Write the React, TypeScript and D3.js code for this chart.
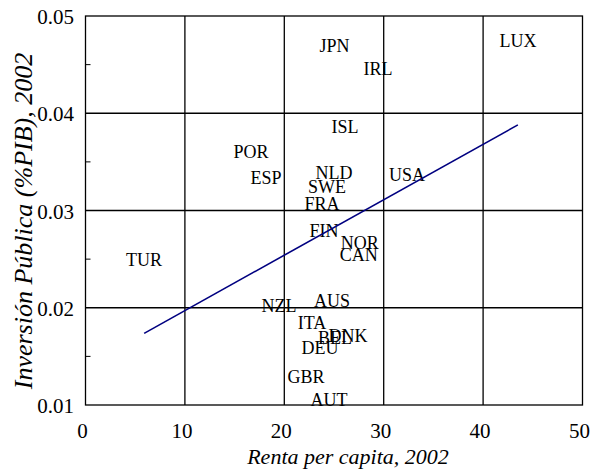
import React from "react";
import * as d3 from "d3";

// Country codes with GDP per capita (x) and public investment share (y), 2002
const countries = ["JPN", "IRL", "LUX", "ISL", "POR", "ESP", "NLD", "SWE", "FRA", "USA", "FIN", "NOR", "CAN", "TUR", "NZL", "AUS", "ITA", "BEL", "DNK", "DEU", "GBR", "AUT"];
const renta = [25.05, 29.43, 43.51, 26.11, 16.65, 18.16, 25.0, 24.3, 23.79, 32.34, 23.99, 27.6, 27.5, 5.89, 19.47, 24.8, 22.79, 25.1, 26.4, 23.59, 22.18, 24.5];
const inversion = [0.0469, 0.04453, 0.04741, 0.03857, 0.036, 0.03333, 0.03384, 0.0324, 0.03066, 0.03364, 0.02788, 0.02665, 0.02542, 0.0249, 0.02017, 0.02069, 0.01843, 0.01689, 0.0171, 0.01586, 0.01288, 0.01051];

// Trend line endpoints
const trendX = [5.9, 43.5];
const trendY = [0.01737, 0.0388];

const xTicks = [0, 10, 20, 30, 40, 50];
const yTicks = [0.01, 0.02, 0.03, 0.04, 0.05];
const yMinorTicks = [0.015, 0.025, 0.035, 0.045];

const W = 591;
const H = 473;
const left = 85.5;
const right = 582.5;
const top = 16;
const bottom = 405;
const FONT = "'Liberation Serif'";

export default function App() {
  const x = d3.scaleLinear().domain([0, 50]).range([left, right]);
  const y = d3.scaleLinear().domain([0.01, 0.05]).range([bottom, top]);
  const line = d3
    .line<number>()
    .x((d) => x(trendX[d]))
    .y((d) => y(trendY[d]));

  const txt = { fontFamily: FONT, fill: "#000" } as React.CSSProperties;

  return (
    <svg width={W} height={H} style={{ position: "absolute", left: 0, top: 0, background: "#fff" }}>
      <rect x={0} y={0} width={W} height={H} fill="#fff" />
      {/* grid */}
      {xTicks.slice(1, -1).map((t) => (
        <line key={"gx" + t} x1={x(t)} x2={x(t)} y1={top} y2={bottom} stroke="#000" strokeWidth={1.3} />
      ))}
      {yTicks.slice(1, -1).map((t) => (
        <line key={"gy" + t} x1={left} x2={right} y1={y(t)} y2={y(t)} stroke="#000" strokeWidth={1.3} />
      ))}
      {yMinorTicks.map((t) => (
        <line key={"my" + t} x1={left} x2={left + 5} y1={y(t)} y2={y(t)} stroke="#000" strokeWidth={1} />
      ))}
      <rect x={left} y={top} width={right - left} height={bottom - top} fill="none" stroke="#000" strokeWidth={1.3} />

      {/* tick labels */}
      {xTicks.map((t) => (
        <text key={"tx" + t} x={x(t)} dx={-3} y={438} textAnchor="middle" fontSize={21} style={txt}>
          {t}
        </text>
      ))}
      {yTicks.map((t) => (
        <text key={"ty" + t} x={74} y={y(t)} dy="0.39em" textAnchor="end" fontSize={21} style={txt}>
          {d3.format(".2f")(t)}
        </text>
      ))}

      {/* country labels */}
      {countries.map((c, i) => (
        <text
          key={c}
          x={x(renta[i])}
          y={y(inversion[i])}
          dy="0.33em"
          textAnchor="middle"
          fontSize={18}
          style={txt}
        >
          {c}
        </text>
      ))}

      {/* trend line */}
      <path d={line([0, 1]) ?? ""} fill="none" stroke="#000080" strokeWidth={1.6} />

      {/* axis titles */}
      <text x={348} y={464} textAnchor="middle" fontSize={22} fontStyle="italic" style={txt}>
        Renta per capita, 2002
      </text>
      <text
        transform={`translate(32, 221) rotate(-90)`}
        textAnchor="middle"
        fontSize={26}
        fontStyle="italic"
        style={txt}
      >
        Inversión Pública (%PIB), 2002
      </text>
    </svg>
  );
}
